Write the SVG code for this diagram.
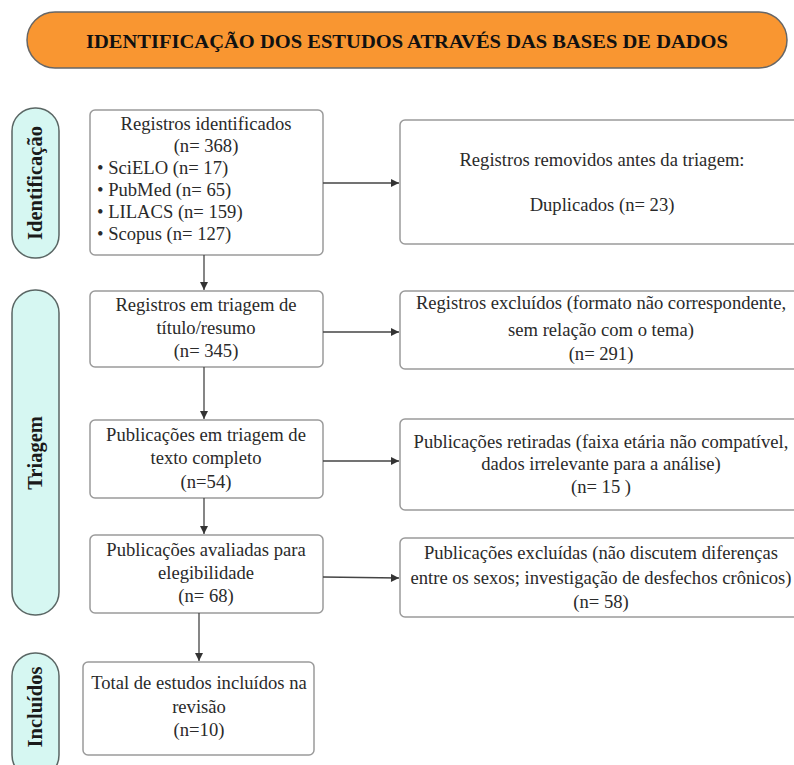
<svg xmlns="http://www.w3.org/2000/svg" width="794" height="765" viewBox="0 0 794 765">
<defs>
<marker id="ah" viewBox="0 0 10 10" refX="10" refY="5" markerWidth="10" markerHeight="8" markerUnits="userSpaceOnUse" orient="auto">
<path d="M0,0 L10,5 L0,10 z" fill="#333"/>
</marker>
<style>
.box{fill:#fff;stroke:#9a9a9a;stroke-width:1.5}
.side{fill:#d6f7f2;stroke:#5a6664;stroke-width:1.5}
.t{font-family:"Liberation Serif","Times New Roman",serif;font-size:18.6px;fill:#2a2a2a;text-anchor:middle}
.tl{text-anchor:start}
.sl{font-family:"Liberation Serif","Times New Roman",serif;font-size:20.5px;font-weight:bold;fill:#1a1a1a;text-anchor:middle}
.edge{stroke:#444;stroke-width:1.3;fill:none;marker-end:url(#ah)}
</style>
</defs>
<rect width="794" height="765" fill="#fff"/>
<g id="title">
<rect x="27" y="12" width="760" height="56" rx="28" fill="#f99631" stroke="#666" stroke-width="1.5"/>
<text x="407" y="48" font-family="Liberation Serif,serif" font-size="19" font-weight="bold" fill="#111" text-anchor="middle" textLength="642" lengthAdjust="spacingAndGlyphs">IDENTIFICAÇÃO DOS ESTUDOS ATRAVÉS DAS BASES DE DADOS</text>
</g>
<g id="lbl-identificacao">
<rect class="side" x="12" y="108" width="47" height="150" rx="23"/>
<text class="sl" transform="translate(42,183) rotate(-90)">Identificação</text>
</g>
<g id="lbl-triagem">
<rect class="side" x="12" y="290" width="47" height="325" rx="23"/>
<text class="sl" transform="translate(42,453) rotate(-90)">Triagem</text>
</g>
<g id="lbl-incluidos">
<rect class="side" x="12" y="653" width="47" height="125" rx="23"/>
<text class="sl" transform="translate(42,707) rotate(-90)">Incluídos</text>
</g>
<g id="n1">
<rect class="box" x="90" y="110" width="233" height="145" rx="5"/>
<text class="t" x="206" y="130">Registros identificados</text>
<text class="t" x="206" y="152">(n= 368)</text>
<text class="t tl" x="97" y="174">• SciELO (n= 17)</text>
<text class="t tl" x="97" y="196">• PubMed (n= 65)</text>
<text class="t tl" x="97" y="218">• LILACS (n= 159)</text>
<text class="t tl" x="97" y="240">• Scopus (n= 127)</text>
</g>
<g id="r1">
<rect class="box" x="400" y="120" width="404" height="124" rx="5"/>
<text class="t" x="602" y="166">Registros removidos antes da triagem:</text>
<text class="t" x="602" y="211">Duplicados (n= 23)</text>
</g>
<g id="n2">
<rect class="box" x="90" y="291" width="233" height="76" rx="5"/>
<text class="t" x="206" y="311">Registros em triagem de</text>
<text class="t" x="206" y="334">título/resumo</text>
<text class="t" x="206" y="357">(n= 345)</text>
</g>
<g id="r2">
<rect class="box" x="400" y="291" width="404" height="78" rx="5"/>
<text class="t" x="601" y="309">Registros excluídos (formato não correspondente,</text>
<text class="t" x="601" y="336">sem relação com o tema)</text>
<text class="t" x="601" y="360">(n= 291)</text>
</g>
<g id="n3">
<rect class="box" x="90" y="420" width="233" height="78" rx="5"/>
<text class="t" x="206" y="441">Publicações em triagem de</text>
<text class="t" x="206" y="464">texto completo</text>
<text class="t" x="206" y="488">(n=54)</text>
</g>
<g id="r3">
<rect class="box" x="400" y="419" width="404" height="91" rx="5"/>
<text class="t" x="601" y="448">Publicações retiradas (faixa etária não compatível,</text>
<text class="t" x="601" y="470">dados irrelevante para a análise)</text>
<text class="t" x="601" y="493">(n= 15 )</text>
</g>
<g id="n4">
<rect class="box" x="90" y="535" width="233" height="78" rx="5"/>
<text class="t" x="206" y="556">Publicações avaliadas para</text>
<text class="t" x="206" y="579">elegibilidade</text>
<text class="t" x="206" y="602">(n= 68)</text>
</g>
<g id="r4">
<rect class="box" x="400" y="538" width="404" height="79" rx="5"/>
<text class="t" x="601" y="559">Publicações excluídas (não discutem diferenças</text>
<text class="t" x="601" y="584">entre os sexos; investigação de desfechos crônicos)</text>
<text class="t" x="601" y="608">(n= 58)</text>
</g>
<g id="n5">
<rect class="box" x="83" y="662" width="231" height="93" rx="5"/>
<text class="t" x="199" y="689">Total de estudos incluídos na</text>
<text class="t" x="199" y="713">revisão</text>
<text class="t" x="199" y="736">(n=10)</text>
</g>
<g id="connectors">
<path class="edge" d="M323,183 L399,183"/>
<path class="edge" d="M204,255 L204,290"/>
<path class="edge" d="M323,332 L399,332"/>
<path class="edge" d="M204,367 L204,419"/>
<path class="edge" d="M323,461 L399,461"/>
<path class="edge" d="M204,498 L204,534"/>
<path class="edge" d="M323,577 L399,578"/>
<path class="edge" d="M199,613 L199,661"/>
</g>
</svg>
